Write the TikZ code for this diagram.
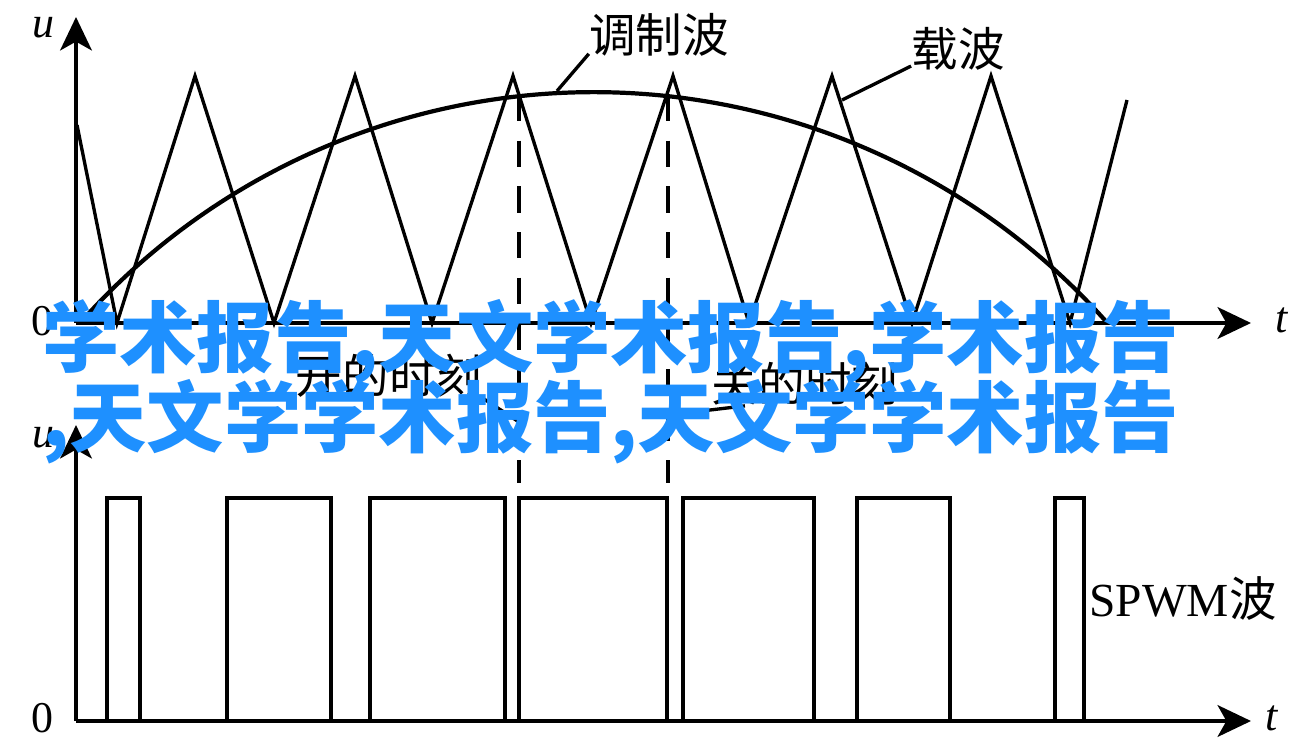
\documentclass[tikz,border=0pt]{standalone}
\usepackage{fontspec}
\setmainfont{Liberation Serif}
\newfontfamily\cjk{Noto Sans CJK SC}
\usetikzlibrary{arrows.meta}
\definecolor{wmblue}{RGB}{30,144,255}

\tikzset{
	axis/.style={line width=2.4pt, -{Stealth[length=19pt,width=18pt,inset=5pt]}},
	carrier/.style={line width=1.9pt},
	modwave/.style={line width=2.4pt},
	pulse/.style={line width=2pt, line join=miter},
	mark line/.style={line width=2pt, dash pattern=on 15pt off 11pt},
	lbl/.style={inner sep=0pt, font=\fontsize{25}{30}\selectfont\itshape},
	cjklbl/.style={inner sep=0pt, font=\fontsize{26.5}{30}\selectfont\cjk},
	wm/.style={inner sep=0pt, anchor=west, text=wmblue, font=\fontsize{44}{50}\selectfont\cjk\bfseries}
}

\begin{document}
\begin{tikzpicture}[x=0.02cm, y=-0.02cm]
		\useasboundingbox (0,0) rectangle (1312,741);

		% upper panel: carrier and modulating wave
		\coordinate (o1) at (76,323);
		\draw[axis] (o1) -- (76,17);
		\draw[axis] (o1) -- (1251,323);
		\node[lbl] (u1) at (43,28) {u};
		\node[lbl, font=\fontsize{25}{30}\selectfont] (z1) at (42,321) {0};
		\node[lbl] (t1) at (1282,320) {t};

		\draw[carrier] (77,125) -- (117,323) -- (195,76) -- (274,323) -- (355,76) -- (432,323)
			-- (513,76) -- (591,323) -- (673,76) -- (749,323) -- (832,76) -- (912,323)
			-- (991,76) -- (1070,323) -- (1127,100);
		\draw[modwave] (80,323) arc[start angle=-138.4, end angle=-41.6, radius=687];

		\draw[mark line] (519,95) -- (519,483);
		\draw[mark line] (668,95) -- (668,483);

		\node[cjklbl] (tzb) at (659,35) {调制波};
		\node[cjklbl] (zb) at (958,49) {载波};
		\node[cjklbl] (kai) at (389,376) {开的时刻};
		\node[cjklbl] (guan) at (805,384) {关的时刻};
		\coordinate (tzbpt) at (557,91);
		\coordinate (zbpt) at (842,100);
		\coordinate (kaipt) at (519,422);
		\coordinate (guanpt) at (668,415);
		\draw[carrier] (tzbpt) -- (tzb.195);
		\draw[carrier] (zbpt) -- (zb.200);
		\draw[carrier] (kaipt) -- (kai.south east);
		\draw[carrier] (guanpt) -- (guan.200);

		% lower panel: SPWM pulses
		\coordinate (o2) at (76,721);
		\draw[axis] (o2) -- (76,425);
		\draw[axis] (o2) -- (1251,721);
		\node[lbl] (u2) at (43,438) {u};
		\node[lbl, font=\fontsize{25}{30}\selectfont] (z2) at (42,718) {0};
		\node[lbl] (t2) at (1272,718) {t};
		\foreach \a/\b in {107/140, 227/331, 370/505, 519/667, 683/814, 857/950, 1055/1084}
			\draw[pulse] (\a,721) -- (\a,498) -- (\b,498) -- (\b,721);
		\node[inner sep=0pt, font=\fontsize{27}{30}\selectfont] (spwm) at (1183,598) {SPWM{\cjk 波}};

		% watermark
		\node[wm] (wm1) at (42,342) {学术报告,天文学术报告,学术报告};
		\node[wm] (wm2) at (42,422) {,天文学学术报告,天文学学术报告};
\end{tikzpicture}
\end{document}
